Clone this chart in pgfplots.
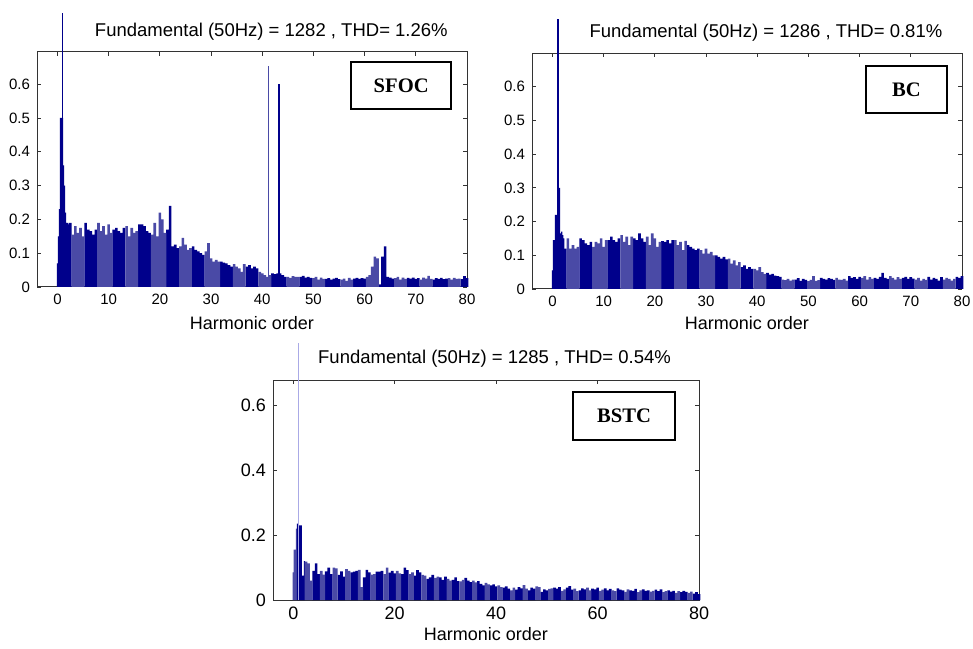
\documentclass[border=0pt]{standalone}
\usepackage{pgfplots}
\pgfplotsset{compat=1.18}
\usepackage{fontspec}
\setmainfont{Liberation Sans}
\newfontfamily\boxfont{Liberation Serif}
\definecolor{navy}{RGB}{0,0,139}
\definecolor{lightnavy}{RGB}{74,74,166}
\definecolor{paleblue}{RGB}{170,170,230}

\tikzset{
  tagbox/.style={draw, fill=white, line width=0.75pt, inner sep=0pt,
    font=\boxfont\bfseries\fontsize{10.3}{12}\selectfont},
}
\pgfplotsset{
  every axis title shift=0pt,
  fftaxis/.style={
    scale only axis, anchor=south west,
    xmin=-4, xmax=80, ymin=0,
    tick align=inside, major tick length=2pt,
    axis line style={black!80, line width=0.5pt},
    every tick/.style={black!80, line width=0.4pt},
    /pgf/number format/assume math mode=true,
    yticklabel style={/pgf/number format/fixed},
    xlabel={Harmonic order},
    clip=false,
  },
  dark/.style={ybar, bar shift=0pt, bar width=0.52, fill=navy, draw=none},
  light/.style={ybar, bar shift=0pt, bar width=0.52, fill=lightnavy, draw=none},
  head/.style={ybar, bar shift=0pt, bar width=0.22, fill=#1, draw=none},
  spike/.style 2 args={ybar, bar shift=0pt, bar width=#1, fill=#2, draw=none},
}

\begin{document}
\begin{tikzpicture}
\useasboundingbox (0,0) rectangle (486.5pt,324pt);

% ---------------- SFOC ----------------
\begin{axis}[fftaxis,
  at={(18.5pt,180.5pt)}, width=215pt, height=117.5pt,
  ymax=0.695, ytick={0,0.1,...,0.6}, xtick={0,10,...,80},
  tick label style={font=\fontsize{7.5}{9}\selectfont},
  xlabel style={font=\fontsize{9}{11}\selectfont, at={(axis description cs:0.5,-0.153)}, anchor=center},
  title={Fundamental (50Hz) = 1282 , THD= 1.26\%},
  title style={font=\fontsize{9.25}{11}\selectfont, at={(axis description cs:0.545,1.085)}, anchor=center},
]
\addplot[head=navy] coordinates {(0,0.07)(0.2,0.15)(0.4,0.23)(0.6,0.5)(0.8,0.5)(1,0.5)(1.2,0.36)(1.4,0.3)(1.6,0.22)(1.8,0.19)(2,0.19)(2.2,0.185)};
\addplot[dark] coordinates {
(2.5,0.19)
(5.5,0.19)(6,0.17)(6.5,0.165)(7,0.155)(7.5,0.17)
(11,0.17)(11.5,0.175)(12,0.165)(12.5,0.16)(13,0.175)
(16,0.185)(16.5,0.185)(17,0.18)(17.5,0.165)(18,0.16)
(21.5,0.17)(22,0.24)(22.5,0.12)(23,0.125)(23.5,0.115)
(26.5,0.12)(27,0.11)(27.5,0.105)(28,0.1)(28.5,0.095)
(32,0.075)(32.5,0.072)(33,0.07)(33.5,0.065)(34,0.06)
(37,0.06)(37.5,0.065)(38,0.055)(38.5,0.06)(39,0.055)
(42,0.04)(42.5,0.038)(43,0.04)(43.5,0.04)(44,0.035)(44.5,0.03)
(47.5,0.03)(48,0.033)(48.5,0.028)(49,0.03)(49.5,0.027)
(52.5,0.024)(53,0.026)(53.5,0.022)(54,0.025)(54.5,0.027)(55,0.023)
(58,0.025)(58.5,0.027)(59,0.024)(59.5,0.026)(60,0.025)
(63,0.008)(63.5,0.09)(64,0.12)(64.5,0.03)(65,0.028)(65.5,0.025)
(68.5,0.027)(69,0.025)(69.5,0.028)(70,0.024)(70.5,0.026)
(73.5,0.022)(74,0.026)(74.5,0.024)(75,0.027)(75.5,0.023)(76,0.025)
(79,0.023)(79.5,0.032)(80,0.026)};
\addplot[light] coordinates {
(3,0.155)(3.5,0.18)(4,0.16)(4.5,0.175)(5,0.15)
(8,0.19)(8.5,0.165)(9,0.18)(9.5,0.155)(10,0.185)(10.5,0.16)
(13.5,0.18)(14,0.15)(14.5,0.175)(15,0.16)(15.5,0.165)
(18.5,0.155)(19,0.19)(19.5,0.15)(20,0.22)(20.5,0.2)(21,0.16)
(24,0.12)(24.5,0.145)(25,0.125)(25.5,0.11)(26,0.115)
(29,0.105)(29.5,0.13)(30,0.085)(30.5,0.075)(31,0.08)(31.5,0.075)
(34.5,0.068)(35,0.06)(35.5,0.055)(36,0.045)(36.5,0.068)
(39.5,0.045)(40,0.04)(40.5,0.035)(41,0.03)(41.5,0.035)
(45,0.03)(45.5,0.027)(46,0.032)(46.5,0.03)(47,0.03)
(50,0.026)(50.5,0.03)(51,0.022)(51.5,0.028)(52,0.024)
(55.5,0.022)(56,0.025)(56.5,0.018)(57,0.027)(57.5,0.022)
(60.5,0.03)(61,0.035)(61.5,0.06)(62,0.09)(62.5,0.085)
(66,0.026)(66.5,0.03)(67,0.022)(67.5,0.028)(68,0.024)
(71,0.022)(71.5,0.028)(72,0.025)(72.5,0.033)(73,0.024)
(76.5,0.026)(77,0.022)(77.5,0.027)(78,0.024)(78.5,0.025)};
\addplot[spike={0.3}{navy}] coordinates {(1,0.81)};
\addplot[spike={0.2}{lightnavy}] coordinates {(41.2,0.655)};
\addplot[spike={0.4}{navy}] coordinates {(43.2,0.6)};
\node[tagbox, minimum width=50pt, minimum height=23.5pt] at (rel axis cs:0.847,0.857) {SFOC};
\end{axis}

% ---------------- BC ----------------
\begin{axis}[fftaxis,
  at={(266pt,179.5pt)}, width=215pt, height=118pt,
  ymax=0.7, ytick={0,0.1,...,0.6}, xtick={0,10,...,80},
  tick label style={font=\fontsize{7.5}{9}\selectfont},
  xlabel style={font=\fontsize{9}{11}\selectfont, at={(axis description cs:0.5,-0.144)}, anchor=center},
  title={Fundamental (50Hz) = 1286 , THD= 0.81\%},
  title style={font=\fontsize{9.25}{11}\selectfont, at={(axis description cs:0.544,1.088)}, anchor=center},
]
\addplot[head=navy] coordinates {(0,0.055)(0.2,0.145)(0.4,0.145)(0.6,0.22)(0.8,0.22)(1,0.22)(1.2,0.3)(1.4,0.3)(1.6,0.165)(1.8,0.17)(2,0.16)(2.2,0.15)};
\addplot[dark] coordinates {
(2.5,0.12)
(5.5,0.15)(6,0.145)(6.5,0.135)(7,0.13)(7.5,0.14)
(11,0.145)(11.5,0.155)(12,0.145)(12.5,0.14)(13,0.15)
(16,0.15)(16.5,0.145)(17,0.165)(17.5,0.15)(18,0.14)
(21.5,0.142)(22,0.14)(22.5,0.145)(23,0.135)(23.5,0.145)
(26.5,0.13)(27,0.125)(27.5,0.12)(28,0.115)(28.5,0.12)
(32,0.1)(32.5,0.095)(33,0.09)(33.5,0.095)(34,0.088)
(37,0.065)(37.5,0.07)(38,0.06)(38.5,0.065)(39,0.06)
(42,0.048)(42.5,0.043)(43,0.045)(43.5,0.04)(44,0.038)(44.5,0.036)
(47.5,0.028)(48,0.032)(48.5,0.024)(49,0.03)(49.5,0.027)
(52.5,0.033)(53,0.03)(53.5,0.028)(54,0.032)(54.5,0.03)(55,0.027)
(58,0.038)(58.5,0.033)(59,0.035)(59.5,0.03)(60,0.036)
(63,0.033)(63.5,0.03)(64,0.036)(64.5,0.048)(65,0.033)(65.5,0.03)
(68.5,0.033)(69,0.036)(69.5,0.03)(70,0.035)(70.5,0.031)
(73.5,0.036)(74,0.028)(74.5,0.033)(75,0.03)(75.5,0.025)(76,0.035)
(79,0.036)(79.5,0.033)(80,0.038)};
\addplot[light] coordinates {
(3,0.15)(3.5,0.12)(4,0.13)(4.5,0.12)(5,0.125)
(8,0.125)(8.5,0.14)(9,0.135)(9.5,0.15)(10,0.125)(10.5,0.145)
(13.5,0.16)(14,0.14)(14.5,0.155)(15,0.13)(15.5,0.155)
(18.5,0.155)(19,0.13)(19.5,0.165)(20,0.15)(20.5,0.125)(21,0.14)
(24,0.145)(24.5,0.13)(25,0.14)(25.5,0.115)(26,0.143)
(29,0.115)(29.5,0.105)(30,0.12)(30.5,0.105)(31,0.11)(31.5,0.1)
(34.5,0.09)(35,0.075)(35.5,0.085)(36,0.07)(36.5,0.08)
(39.5,0.06)(40,0.055)(40.5,0.065)(41,0.05)(41.5,0.045)
(45,0.028)(45.5,0.026)(46,0.03)(46.5,0.025)(47,0.028)
(50,0.023)(50.5,0.027)(51,0.038)(51.5,0.024)(52,0.026)
(55.5,0.033)(56,0.028)(56.5,0.027)(57,0.03)(57.5,0.025)
(60.5,0.033)(61,0.038)(61.5,0.028)(62,0.035)(62.5,0.03)
(66,0.038)(66.5,0.033)(67,0.028)(67.5,0.035)(68,0.03)
(71,0.028)(71.5,0.033)(72,0.025)(72.5,0.03)(73,0.027)
(76.5,0.028)(77,0.033)(77.5,0.03)(78,0.025)(78.5,0.03)};
\addplot[spike={0.3}{navy}] coordinates {(1.1,0.80)};
\node[tagbox, minimum width=40.5pt, minimum height=23.5pt] at (rel axis cs:0.871,0.845) {BC};
\end{axis}

% ---------------- BSTC ----------------
\begin{axis}[fftaxis,
  at={(136.5pt,24pt)}, width=213pt, height=110pt,
  ymax=0.677, ytick={0,0.2,0.4,0.6}, xtick={0,20,...,80},
  tick label style={font=\fontsize{9}{11}\selectfont},
  xlabel style={font=\fontsize{9}{11}\selectfont, at={(axis description cs:0.5,-0.155)}, anchor=center},
  title={Fundamental (50Hz) = 1285 , THD= 0.54\%},
  title style={font=\fontsize{9.25}{11}\selectfont, at={(axis description cs:0.52,1.095)}, anchor=center},
]
\addplot[head=lightnavy] coordinates {(0,0.085)(0.2,0.155)(0.4,0.155)(0.6,0.22)};
\addplot[head=navy] coordinates {(0.8,0.235)(1,0.235)(1.2,0.23)(1.4,0.23)(1.6,0.23)(1.8,0.075)(2,0.075)(2.2,0.12)};
\addplot[dark] coordinates {
(4,0.09)(4.5,0.113)(5,0.08)(6.5,0.088)(7,0.1)(7.5,0.08)(9,0.077)(9.5,0.088)(10,0.072)
(11.5,0.085)(12,0.087)(12.5,0.09)(14,0.07)(14.5,0.093)(15,0.085)(16.5,0.087)(17,0.087)(17.5,0.09)
(19,0.084)(19.5,0.09)(20,0.082)(21.5,0.08)(22,0.1)(22.5,0.092)(24,0.075)(24.5,0.092)(25,0.085)
(26.5,0.065)(27,0.07)(27.5,0.077)(29,0.07)(29.5,0.062)(30,0.072)(31.5,0.062)(32,0.07)(32.5,0.058)
(34,0.068)(34.5,0.06)(35,0.055)(36.5,0.058)(37,0.05)(37.5,0.045)(39,0.045)(39.5,0.048)(40,0.042)
(41.5,0.038)(42,0.042)(42.5,0.035)(44,0.032)(44.5,0.04)(45,0.036)(46.5,0.03)(47,0.038)(47.5,0.035)
(49,0.025)(49.5,0.033)(50,0.03)(51.5,0.038)(52,0.035)(52.5,0.04)(54,0.038)(54.5,0.043)(55,0.032)
(56.5,0.03)(57,0.036)(57.5,0.033)(59,0.035)(59.5,0.033)(60,0.038)(61.5,0.036)(62,0.03)(62.5,0.034)
(64,0.036)(64.5,0.032)(65,0.03)(66.5,0.03)(67,0.028)(67.5,0.034)(69,0.033)(69.5,0.028)(70,0.03)
(71.5,0.032)(72,0.027)(72.5,0.033)(74,0.03)(74.5,0.026)(75,0.028)(76.5,0.024)(77,0.028)(77.5,0.025)
(79,0.02)(79.5,0.024)(80,0.018)};
\addplot[light] coordinates {
(2.5,0.118)(3,0.113)(3.5,0.06)(5.5,0.09)(6,0.078)(8,0.1)(8.5,0.097)(10.5,0.095)(11,0.09)
(13,0.093)(13.5,0.04)(15.5,0.078)(16,0.08)(18,0.08)(18.5,0.1)(20.5,0.09)(21,0.082)
(23,0.08)(23.5,0.085)(25.5,0.077)(26,0.075)(28,0.068)(28.5,0.072)(30.5,0.065)(31,0.06)
(33,0.057)(33.5,0.062)(35.5,0.06)(36,0.054)(38,0.053)(38.5,0.048)(40.5,0.045)(41,0.04)
(43,0.03)(43.5,0.038)(45.5,0.046)(46,0.035)(48,0.042)(48.5,0.04)(50.5,0.034)(51,0.036)
(53,0.028)(53.5,0.033)(55.5,0.035)(56,0.027)(58,0.038)(58.5,0.03)(60.5,0.028)(61,0.032)
(63,0.03)(63.5,0.027)(65.5,0.025)(66,0.033)(68,0.024)(68.5,0.03)(70.5,0.026)(71,0.028)
(73,0.024)(73.5,0.027)(75.5,0.022)(76,0.027)(78,0.022)(78.5,0.026)};
\addplot[spike={0.2}{paleblue}] coordinates {(1.05,0.79)};
\node[tagbox, minimum width=51pt, minimum height=24pt] at (rel axis cs:0.824,0.836) {BSTC};
\end{axis}
\end{tikzpicture}
\end{document}
